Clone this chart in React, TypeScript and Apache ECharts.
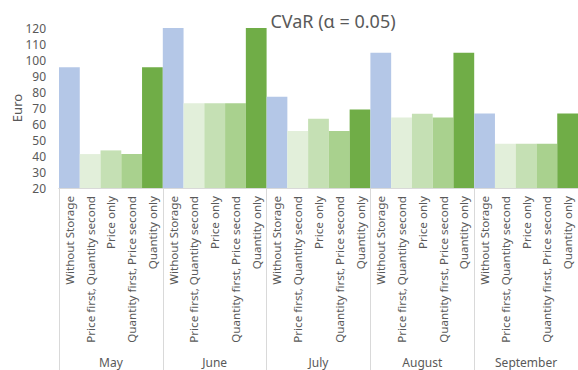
import React, { useEffect, useRef } from "react";
import * as echarts from "echarts";

const months = ["May", "June", "July", "August", "September"];
const strategies = [
  "Without Storage",
  "Price first, Quantity second",
  "Price only",
  "Quantity first, Price second",
  "Quantity only",
];
const strategyColors = ["#B4C7E7", "#E2EFDA", "#C5E0B4", "#A9D18E", "#70AD47"];
const withoutStorage = [95.5, 120, 77, 104.5, 66.5];
const priceFirst = [41.2, 73, 55.6, 64.1, 47.7];
const priceOnly = [43.5, 73, 63.3, 66.4, 47.7];
const quantityFirst = [41.2, 73, 55.6, 64.1, 47.7];
const quantityOnly = [95.5, 120, 69.1, 104.5, 66.5];
const yTicks = { min: 20, max: 120, interval: 10 };

const seriesValues = [withoutStorage, priceFirst, priceOnly, quantityFirst, quantityOnly];

export default function App() {
  const ref = useRef<HTMLDivElement>(null);
  useEffect(() => {
    document.body.style.margin = "0";
    if (!ref.current) return;
    const chart = echarts.init(ref.current, undefined, { renderer: "svg" });
    const cats: string[] = [];
    const data: any[] = [];
    months.forEach((m, mi) => {
      strategies.forEach((s, si) => {
        cats.push(s);
        data.push({ value: seriesValues[si][mi], itemStyle: { color: strategyColors[si] } });
      });
    });
    const font = "'Noto Sans', sans-serif";
    chart.setOption({
      animation: false,
      title: {
        text: "CVaR (α = 0.05)",
        left: 328,
        top: 7,
        textAlign: "center",
        textStyle: { color: "#595959", fontSize: 18, fontWeight: "normal", fontFamily: font },
      },
      grid: {
        left: 59,
        right: 0,
        top: 28,
        bottom: 182,
        containLabel: false,
        outerBoundsMode: "none",
      },
      xAxis: [
        {
          type: "category",
          data: cats,
          position: "bottom",
          axisLine: { show: true, lineStyle: { color: "#D9D9D9" } },
          axisTick: { show: false },
          axisLabel: {
            interval: 0,
            rotate: 90,
            margin: 8,
            color: "#595959",
            fontSize: 11.6,
            fontFamily: font,
          },
        },
        {
          type: "category",
          data: months,
          position: "bottom",
          axisLine: { show: true, lineStyle: { color: "#D9D9D9" } },
          axisTick: { show: true, length: 182, interval: 0, lineStyle: { color: "#D9D9D9" } },
          axisLabel: { interval: 0, margin: 168, color: "#595959", fontSize: 12, fontFamily: font },
        },
      ],
      yAxis: {
        type: "value",
        min: yTicks.min,
        max: yTicks.max,
        interval: yTicks.interval,
        name: "Euro",
        nameLocation: "middle",
        nameRotate: 90,
        nameGap: 36,
        nameMoveOverlap: false,
        nameTextStyle: { color: "#595959", fontSize: 13, fontFamily: font },
        axisLine: { show: false },
        axisTick: { show: false },
        splitLine: { show: false },
        axisLabel: { color: "#595959", fontSize: 12, margin: 13, fontFamily: font },
      },
      series: [
        {
          type: "bar",
          xAxisIndex: 0,
          data,
          barCategoryGap: "0%",
          barGap: "0%",
        },
      ],
    });
    return () => chart.dispose();
  }, []);
  return (
    <div
      ref={ref}
      style={{ position: "absolute", left: 0, top: 0, width: 578, height: 370 }}
    />
  );
}
